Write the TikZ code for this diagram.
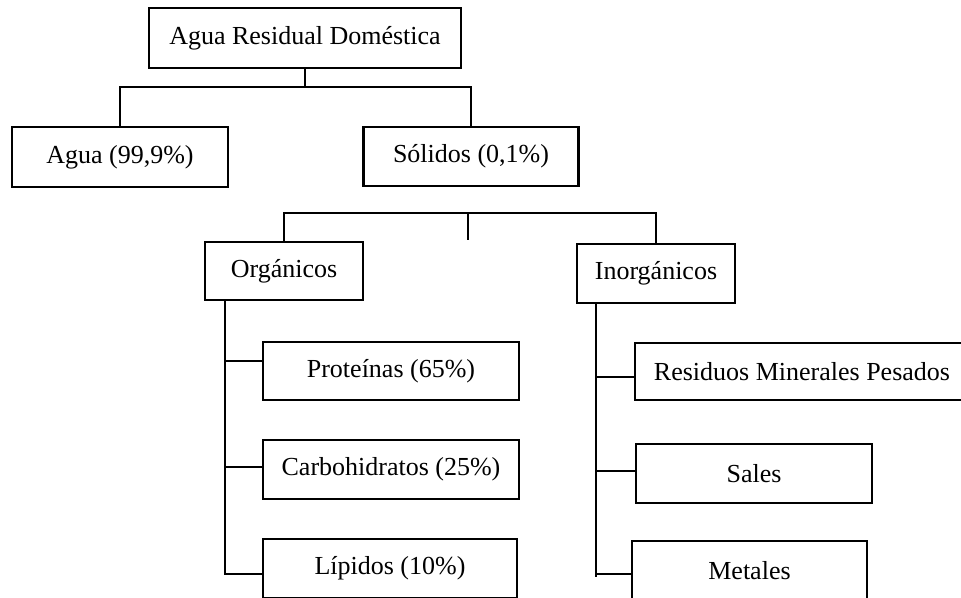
\documentclass[tikz,border=0pt]{standalone}
\usepackage{fontspec}
\setmainfont{Liberation Serif}
\begin{document}
\begin{tikzpicture}[x=1pt,y=-1pt,
  box/.style={draw, line width=2.2pt, rectangle, inner sep=0pt, font=\fontsize{26}{31}\selectfont, text=black},
  conn/.style={line width=2.2pt}]
\useasboundingbox (0,0) rectangle (961,597);
\clip (0,0) rectangle (961,597);
% nodes
\node[box, minimum width=312pt, minimum height=60pt] (root) at (305,38) {Agua Residual Doméstica};
\node[box, minimum width=216pt, minimum height=60pt] (agua) at (120,157) {Agua (99,9\%)};
\node[box, minimum width=215pt, minimum height=59pt] (sol) at (471,156.5) {Sólidos (0,1\%)};
\node[box, minimum width=158pt, minimum height=58pt] (org) at (284,271) {Orgánicos};
\node[box, minimum width=158pt, minimum height=59pt] (inorg) at (656,273.5) {Inorgánicos};
\node[box, minimum width=256pt, minimum height=58pt] (prot) at (391,371) {Proteínas (65\%)};
\node[box, minimum width=256pt, minimum height=59pt] (carb) at (391,469.5) {Carbohidratos (25\%)};
\node[box, minimum width=254pt, minimum height=59pt] (lip) at (390,568.5) {Lípidos (10\%)};
\node[box, minimum width=334pt, minimum height=57pt] (res) at (802,371.5) {Residuos Minerales Pesados};
\node[box, minimum width=236pt, minimum height=59pt] (sal) at (754,473.5) {Sales};
\node[box, minimum width=235pt, minimum height=59pt] (met) at (749.5,570.5) {Metales};
% junctions
\coordinate (h1) at (305,87);
\coordinate (h2) at (468,213);
\coordinate (stub) at (468,240);
\coordinate (ot) at (225,575);
\coordinate (it) at (596,577);
% connectors
\draw[conn] (root.south) -- (h1);
\draw[conn] (agua.north) -- (agua.north |- h1) -- (sol.north |- h1) -- (sol.north);
\draw[conn] (org.north) -- (org.north |- h2) -- (inorg.north |- h2) -- (inorg.north);
\draw[conn] (h2) -- (stub);
\draw[conn] (org.south -| ot) -- (ot);
\draw[conn] (ot |- 0,361) -- (prot.west |- 0,361);
\draw[conn] (ot |- 0,467) -- (carb.west |- 0,467);
\draw[conn] (ot |- 0,574) -- (lip.west |- 0,574);
\draw[conn] (inorg.south -| it) -- (it);
\draw[conn] (it |- 0,377) -- (res.west |- 0,377);
\draw[conn] (it |- 0,471) -- (sal.west |- 0,471);
\draw[conn] (it |- 0,574) -- (met.west |- 0,574);
\end{tikzpicture}
\end{document}
